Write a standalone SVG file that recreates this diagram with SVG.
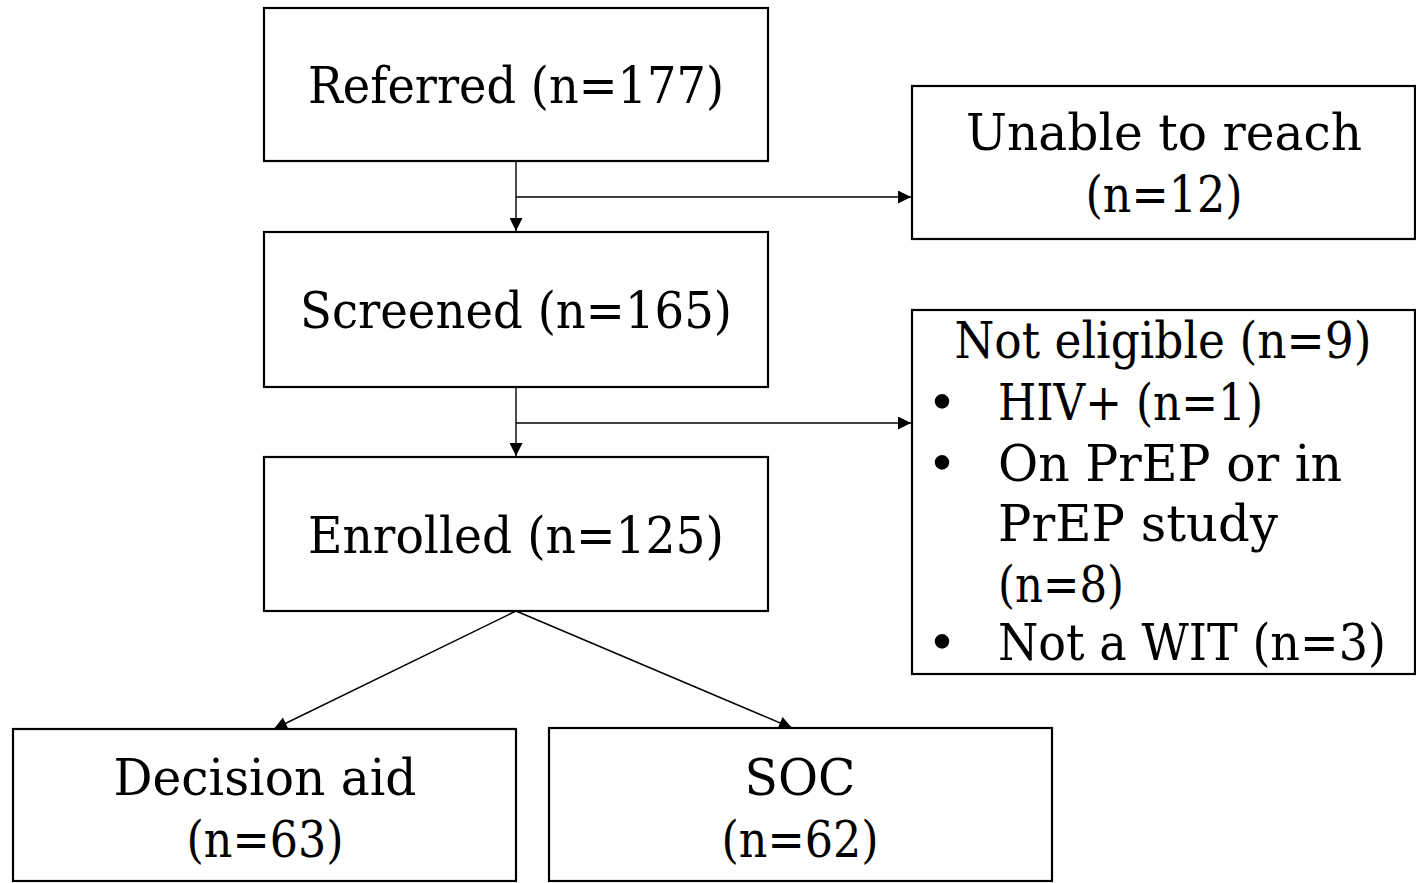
<svg xmlns="http://www.w3.org/2000/svg" width="1416" height="883" viewBox="0 0 1416 883">
<style>
.box{fill:#fff;stroke:#000;stroke-width:2.2}
.t{font-family:"DejaVu Serif","Liberation Serif",serif;font-size:50px;fill:#000}
.c{text-anchor:middle}
.ln{fill:none;stroke:#000;stroke-width:1.4}
</style>
<defs>
<marker id="ah" viewBox="0 0 10 10" refX="10" refY="5" markerWidth="14" markerHeight="13" markerUnits="userSpaceOnUse" orient="auto">
<path d="M0,0 L10,5 L0,10 z" fill="#000"/>
</marker>
</defs>
<rect width="1416" height="883" fill="#fff"/>
<g id="connectors">
<line class="ln" x1="516" y1="161" x2="516" y2="231" marker-end="url(#ah)"/>
<line class="ln" x1="516" y1="197" x2="911" y2="197" marker-end="url(#ah)"/>
<line class="ln" x1="516" y1="387" x2="516" y2="456" marker-end="url(#ah)"/>
<line class="ln" x1="516" y1="423" x2="911" y2="423" marker-end="url(#ah)"/>
<line class="ln" x1="516" y1="611" x2="274" y2="729" marker-end="url(#ah)"/>
<line class="ln" x1="516" y1="611" x2="792" y2="728" marker-end="url(#ah)"/>
</g>
<g id="referred">
<rect class="box" x="264" y="8" width="504" height="153"/>
<text class="t c" x="516" y="103" textLength="416" lengthAdjust="spacingAndGlyphs">Referred (n=177)</text>
</g>
<g id="unable">
<rect class="box" x="912" y="86" width="503" height="153"/>
<text class="t c" x="1164" y="150" textLength="396" lengthAdjust="spacingAndGlyphs">Unable to reach</text>
<text class="t c" x="1164" y="212" textLength="157" lengthAdjust="spacingAndGlyphs">(n=12)</text>
</g>
<g id="screened">
<rect class="box" x="264" y="232" width="504" height="155"/>
<text class="t c" x="516" y="328" textLength="432" lengthAdjust="spacingAndGlyphs">Screened (n=165)</text>
</g>
<g id="noteligible">
<rect class="box" x="912" y="310" width="503" height="364"/>
<text class="t c" x="1163" y="358" textLength="417" lengthAdjust="spacingAndGlyphs">Not eligible (n=9)</text>
<text class="t c" x="942" y="420">•</text>
<text class="t" x="998" y="420" textLength="265" lengthAdjust="spacingAndGlyphs">HIV+ (n=1)</text>
<text class="t c" x="942" y="481">•</text>
<text class="t" x="998" y="481" textLength="344" lengthAdjust="spacingAndGlyphs">On PrEP or in</text>
<text class="t" x="998" y="541" textLength="280" lengthAdjust="spacingAndGlyphs">PrEP study</text>
<text class="t" x="998" y="602" textLength="126" lengthAdjust="spacingAndGlyphs">(n=8)</text>
<text class="t c" x="942" y="660">•</text>
<text class="t" x="998" y="660" font-size="47" textLength="388" lengthAdjust="spacingAndGlyphs">Not a WIT (n=3)</text>
</g>
<g id="enrolled">
<rect class="box" x="264" y="457" width="504" height="154"/>
<text class="t c" x="516" y="553" textLength="416" lengthAdjust="spacingAndGlyphs">Enrolled (n=125)</text>
</g>
<g id="decisionaid">
<rect class="box" x="13" y="729" width="503" height="152"/>
<text class="t c" x="265" y="795" textLength="303" lengthAdjust="spacingAndGlyphs">Decision aid</text>
<text class="t c" x="265" y="857" textLength="157" lengthAdjust="spacingAndGlyphs">(n=63)</text>
</g>
<g id="soc">
<rect class="box" x="549" y="728" width="503" height="153"/>
<text class="t c" x="800" y="795" textLength="111" lengthAdjust="spacingAndGlyphs">SOC</text>
<text class="t c" x="800" y="857" textLength="157" lengthAdjust="spacingAndGlyphs">(n=62)</text>
</g>
</svg>
